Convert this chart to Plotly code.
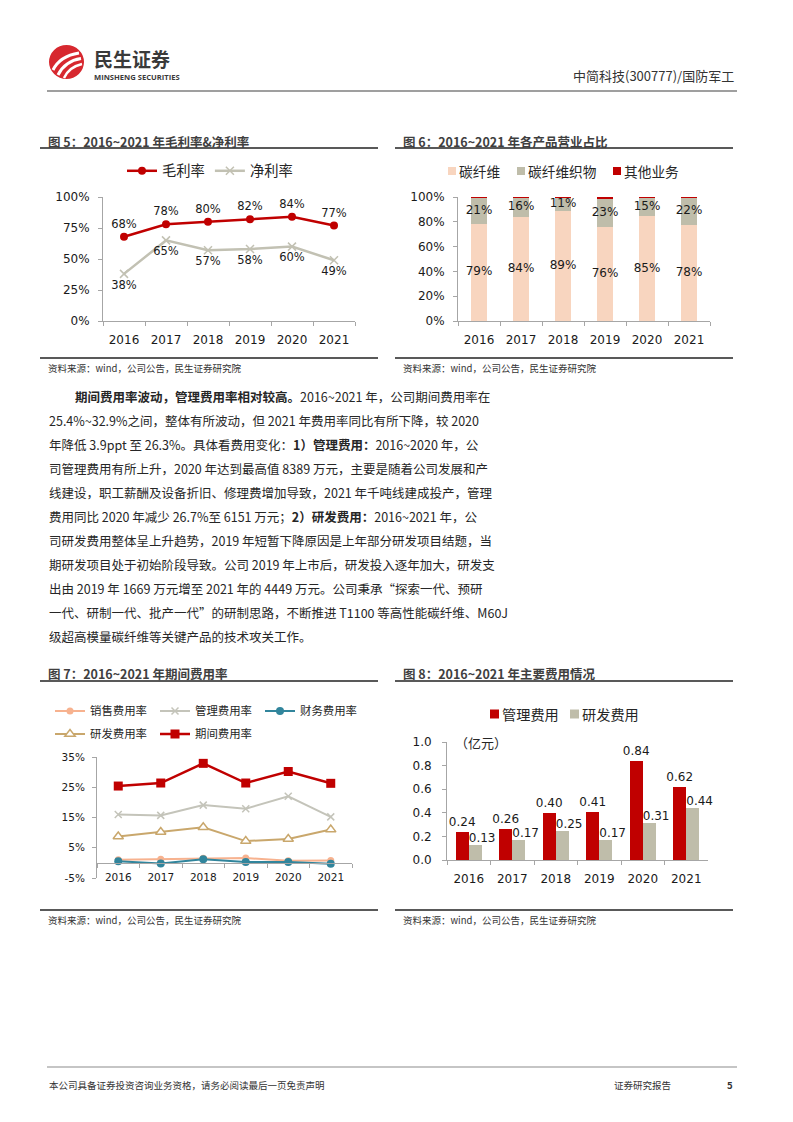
import plotly.graph_objects as go

W, H = 793, 1122
def X(p): return p / W
def Y(p): return 1 - p / H

# ---------------- data ----------------
years = ['2016', '2017', '2018', '2019', '2020', '2021']

gross_margin = [68, 78, 80, 82, 84, 77]
net_margin = [38, 65, 57, 58, 60, 49]
pct_ticks_5 = [0, 25, 50, 75, 100]

cf_share = [78.6, 83.9, 88.6, 75.6, 84.6, 77.6]
fabric_share = [20.8, 15.6, 10.9, 22.9, 14.9, 21.9]
other_share = [0.6, 0.5, 0.5, 1.5, 0.5, 0.5]
cf_labels = ['79%', '84%', '89%', '76%', '85%', '78%']
fabric_labels = ['21%', '16%', '11%', '23%', '15%', '22%']
pct_ticks_6 = [0, 20, 40, 60, 80, 100]

sales_rate = [1.0, 1.2, 1.5, 1.6, 0.7, 0.8]
admin_rate = [16.0, 15.7, 19.1, 17.9, 22.0, 15.2]
fin_rate = [0.5, -0.2, 1.2, 0.3, 0.3, -0.3]
rd_rate = [8.7, 10.2, 11.8, 7.2, 7.9, 11.0]
period_rate = [25.4, 26.4, 32.9, 26.4, 30.2, 26.3]
pct_ticks_7 = [-5, 5, 15, 25, 35]

admin_exp = [0.24, 0.26, 0.40, 0.41, 0.84, 0.62]
rd_exp = [0.13, 0.17, 0.25, 0.17, 0.31, 0.44]
exp_ticks = [0.0, 0.2, 0.4, 0.6, 0.8, 1.0]

# ---------------- styles ----------------
RED = '#C00000'
GRAY_LINE = '#C2C1B3'
PEACH = '#F8D5BF'
FABRIC = '#BFBDAA'
SALES_C = '#F7B28F'
ADMIN_C = '#C4C4BA'
FIN_C = '#31859C'
RD_C = '#C9A76C'
AXIS_C = '#A6A6A6'
TXT = '#262626'
NUMF = 'DejaVu Sans, Noto Sans CJK SC'
CJK = 'Noto Sans CJK SC'
LBL = '#1a1a1a'

fig = go.Figure()

# ---------- chart 5 ----------
fig.add_trace(go.Scatter(
    x=years, y=gross_margin, name='毛利率', mode='lines+markers+text',
    text=[f'{v}%' for v in gross_margin], textposition='top center',
    textfont=dict(family=NUMF, size=11.5, color=LBL),
    line=dict(color=RED, width=2.5), marker=dict(color=RED, size=8),
    xaxis='x', yaxis='y', legend='legend', cliponaxis=False))
fig.add_trace(go.Scatter(
    x=years, y=net_margin, name='净利率', mode='lines+markers+text',
    text=[f'{v}%' for v in net_margin], textposition='bottom center',
    textfont=dict(family=NUMF, size=11.5, color=LBL),
    line=dict(color=GRAY_LINE, width=2.5),
    marker=dict(symbol='x-thin', size=8, color=GRAY_LINE, line=dict(color=GRAY_LINE, width=1.5)),
    xaxis='x', yaxis='y', legend='legend', cliponaxis=False))

# ---------- chart 6 ----------
fabric_base = cf_share
other_base = [a + b for a, b in zip(cf_share, fabric_share)]
fig.add_trace(go.Bar(x=years, y=cf_share, name='碳纤维', marker=dict(color=PEACH, line=dict(width=0)),
                     width=0.4, xaxis='x2', yaxis='y2', showlegend=False))
fig.add_trace(go.Bar(x=years, y=fabric_share, base=fabric_base, name='碳纤维织物',
                     marker=dict(color=FABRIC, line=dict(width=0)),
                     width=0.4, xaxis='x2', yaxis='y2', showlegend=False))
fig.add_trace(go.Bar(x=years, y=other_share, base=other_base, name='其他业务',
                     marker=dict(color=RED, line=dict(width=0)),
                     width=0.4, xaxis='x2', yaxis='y2', showlegend=False))
fig.add_trace(go.Scatter(x=years, y=[v / 2 for v in cf_share], mode='text', text=cf_labels,
                         textfont=dict(family=NUMF, size=12, color=LBL),
                         showlegend=False, xaxis='x2', yaxis='y2', hoverinfo='skip'))
fig.add_trace(go.Scatter(x=years, y=[a + b / 2 for a, b in zip(cf_share, fabric_share)], mode='text',
                         text=fabric_labels, textfont=dict(family=NUMF, size=12, color=LBL),
                         showlegend=False, xaxis='x2', yaxis='y2', hoverinfo='skip'))

# ---------- chart 7 ----------
fig.add_trace(go.Scatter(x=years, y=sales_rate, name='销售费用率', mode='lines+markers',
                         line=dict(color=SALES_C, width=2), marker=dict(color=SALES_C, size=7),
                         xaxis='x3', yaxis='y3', legend='legend3', cliponaxis=False))
fig.add_trace(go.Scatter(x=years, y=admin_rate, name='管理费用率', mode='lines+markers',
                         line=dict(color=ADMIN_C, width=2),
                         marker=dict(symbol='x-thin', size=7, color=ADMIN_C, line=dict(color=ADMIN_C, width=1.5)),
                         xaxis='x3', yaxis='y3', legend='legend3'))
fig.add_trace(go.Scatter(x=years, y=fin_rate, name='财务费用率', mode='lines+markers',
                         line=dict(color=FIN_C, width=2), marker=dict(color=FIN_C, size=8),
                         xaxis='x3', yaxis='y3', legend='legend3', cliponaxis=False))
fig.add_trace(go.Scatter(x=years, y=rd_rate, name='研发费用率', mode='lines+markers',
                         line=dict(color=RD_C, width=2),
                         marker=dict(symbol='triangle-up', size=9, color='white', line=dict(color=RD_C, width=1.5)),
                         xaxis='x3', yaxis='y3', legend='legend4'))
fig.add_trace(go.Scatter(x=years, y=period_rate, name='期间费用率', mode='lines+markers',
                         line=dict(color=RED, width=2.5), marker=dict(symbol='square', color=RED, size=9),
                         xaxis='x3', yaxis='y3', legend='legend4'))

# ---------- chart 8 ----------
fig.add_trace(go.Bar(x=years, y=admin_exp, name='管理费用', marker=dict(color=RED, line=dict(width=0)),
                     width=0.3, offset=-0.3, text=[f'{v:.2f}' for v in admin_exp], textposition='outside',
                     textangle=0, constraintext='none', cliponaxis=False,
                     textfont=dict(family=NUMF, size=12, color=LBL),
                     xaxis='x4', yaxis='y4', showlegend=False))
fig.add_trace(go.Bar(x=years, y=rd_exp, name='研发费用', marker=dict(color=FABRIC, line=dict(width=0)),
                     width=0.3, offset=0.0, xaxis='x4', yaxis='y4', showlegend=False))
fig.add_trace(go.Scatter(x=years, y=rd_exp, mode='text', text=[f'{v:.2f}' for v in rd_exp],
                         textposition='top right', textfont=dict(family=NUMF, size=12, color=LBL),
                         cliponaxis=False, showlegend=False, hoverinfo='skip', xaxis='x4', yaxis='y4'))

# ---------------- axes ----------------
def xax(d0, d1, anchor, size=12, **kw):
    a = dict(domain=[X(d0), X(d1)], anchor=anchor, type='category', range=[-0.5, 5.5],
             showline=True, linecolor=AXIS_C, linewidth=1, ticks='outside', tickson='boundaries',
             ticklen=4, tickcolor=AXIS_C, showgrid=False, zeroline=False, fixedrange=True,
             tickfont=dict(family=NUMF, size=size, color=LBL))
    a.update(kw)
    return a

def yax(top, bottom, anchor, rng, size=12, **kw):
    a = dict(domain=[Y(bottom), Y(top)], anchor=anchor, range=rng, showline=True, linecolor=AXIS_C,
             linewidth=1, ticks='outside', ticklen=4, tickcolor=AXIS_C, showgrid=False, zeroline=False,
             fixedrange=True, tickfont=dict(family=NUMF, size=size, color=LBL))
    a.update(kw)
    return a

# chart 7: value 0 sits at this pixel row (range -5..35 over 757..878)
c7_top, c7_bot = 757, 878
c7_zero = c7_bot - (0 - pct_ticks_7[0]) / (pct_ticks_7[-1] - pct_ticks_7[0]) * (c7_bot - c7_top)

layout_axes = dict(
    xaxis=xax(103, 355, 'y', ticklabelstandoff=8),
    yaxis=yax(197, 321, 'x', [0, 100], tickvals=pct_ticks_5, ticktext=[f'{v}%' for v in pct_ticks_5],
              ticklabelstandoff=6),
    xaxis2=xax(458, 710, 'y2', ticklabelstandoff=8),
    yaxis2=yax(197, 321, 'x2', [0, 100], tickvals=pct_ticks_6, ticktext=[f'{v}%' for v in pct_ticks_6],
               ticklabelstandoff=6),
    xaxis3=xax(97, 352, 'free', size=10.5, position=Y(c7_zero), ticklen=4, ticklabelstandoff=5),
    yaxis3=yax(c7_top, c7_bot, 'x3', [pct_ticks_7[0], pct_ticks_7[-1]], size=10.5, tickvals=pct_ticks_7,
               ticktext=[f'{v}%' for v in pct_ticks_7], ticklabelstandoff=5),
    xaxis4=xax(447, 708, 'y4', size=12, ticklabelstandoff=8),
    yaxis4=yax(742, 860, 'x4', [0, 1.0], tickvals=exp_ticks, ticktext=[f'{v:.1f}' for v in exp_ticks],
               ticklabelstandoff=8),
)

def leg(x, y, size, **kw):
    d = dict(orientation='h', x=X(x), y=Y(y), xanchor='left', yanchor='middle',
             bgcolor='rgba(0,0,0,0)', font=dict(family=CJK, size=size, color='#262626'),
             itemwidth=30, tracegroupgap=0, traceorder='normal')
    d.update(kw)
    return d

# ---------------- text ----------------
ann = []
def text(x, y, s, size=12, color=TXT, family=CJK, anchor='left', bold=False):
    if bold:
        s = f'<b>{s}</b>'
    ann.append(dict(x=X(x), y=Y(y), xref='paper', yref='paper', text=s, showarrow=False,
                    xanchor=anchor, yanchor='middle', font=dict(family=family, size=size, color=color)))

shapes = []
def square(x, y, s, color):
    shapes.append(dict(type='rect', xref='paper', yref='paper', x0=X(x), x1=X(x + s),
                       y0=Y(y + s / 2), y1=Y(y - s / 2), fillcolor=color, line=dict(width=0)))

# header
text(92, 58, '<b>民生证券</b>', size=19, color='#3a3a3a')
text(92, 77, '<b>MINSHENG SECURITIES</b>', size=7.6, color='#3a3a3a', family='Open Sans')
text(736, 75, '中简科技(300777)/国防军工', size=13, color='#333333', anchor='right')

# chart titles
TITLE_C = '#3f3f3f'
text(46, 141, '图 5：2016~2021 年毛利率&净利率', size=12.5, color=TITLE_C, bold=True)
text(401, 141, '图 6：2016~2021 年各产品营业占比', size=12.5, color=TITLE_C, bold=True)
text(46, 673, '图 7：2016~2021 年期间费用率', size=12.5, color=TITLE_C, bold=True)
text(401, 673, '图 8：2016~2021 年主要费用情况', size=12.5, color=TITLE_C, bold=True)

# bar-chart legends
for x0, col, name in [(448, PEACH, '碳纤维'), (517, FABRIC, '碳纤维织物'), (613, RED, '其他业务')]:
    square(x0, 171, 8, col)
    text(x0 + 9, 171, name, size=13.7, color='#262626')
for x0, col, name in [(490, RED, '管理费用'), (570, FABRIC, '研发费用')]:
    square(x0, 714, 9, col)
    text(x0 + 10, 714, name, size=14.2, color='#262626')

# sources
src = '资料来源：wind，公司公告，民生证券研究院'
text(46, 368, src, size=9.5, color='#333333')
text(401, 368, src, size=9.5, color='#333333')
text(46, 920, src, size=9.5, color='#333333')
text(401, 920, src, size=9.5, color='#333333')

# unit
text(453, 742, '（亿元）', size=13, color='#262626')

# body
body = [
    (73, '<b>期间费用率波动，管理费用率相对较高。</b>2016~2021 年，公司期间费用率在'),
    (47, '25.4%~32.9%之间，整体有所波动，但 2021 年费用率同比有所下降，较 2020'),
    (47, '年降低 3.9ppt 至 26.3%。具体看费用变化：<b>1）管理费用：</b>2016~2020 年，公'),
    (47, '司管理费用有所上升，2020 年达到最高值 8389 万元，主要是随着公司发展和产'),
    (47, '线建设，职工薪酬及设备折旧、修理费增加导致，2021 年千吨线建成投产，管理'),
    (47, '费用同比 2020 年减少 26.7%至 6151 万元；<b>2）研发费用：</b>2016~2021 年，公'),
    (47, '司研发费用整体呈上升趋势，2019 年短暂下降原因是上年部分研发项目结题，当'),
    (47, '期研发项目处于初始阶段导致。公司 2019 年上市后，研发投入逐年加大，研发支'),
    (47, '出由 2019 年 1669 万元增至 2021 年的 4449 万元。公司秉承“探索一代、预研'),
    (47, '一代、研制一代、批产一代”的研制思路，不断推进 T1100 等高性能碳纤维、M60J'),
    (47, '级超高模量碳纤维等关键产品的技术攻关工作。'),
]
for i, (x0, s) in enumerate(body):
    text(x0, 397 + i * 23.9, s, size=12.5, color='#262626')

# footer
text(47, 1085, '本公司具备证券投资咨询业务资格，请务必阅读最后一页免责声明', size=9.5, color='#333333')
text(612, 1085, '证券研究报告', size=9.5, color='#333333')
text(735, 1085, '<b>5</b>', size=9.5, color='#333333', anchor='right')

# ---------------- shapes ----------------
def hline(x0, x1, y, color='#595959', width=2):
    shapes.append(dict(type='line', xref='paper', yref='paper', x0=X(x0), x1=X(x1), y0=Y(y), y1=Y(y),
                       line=dict(color=color, width=width)))

hline(47, 737, 91, color='#7f7f7f', width=1.5)
hline(47, 737, 1067, color='#8c8c8c', width=1.2)
for yy in (148, 358, 681, 910):
    hline(40, 378, yy)
    hline(395, 733, yy)

# logo
shapes.append(dict(type='circle', xref='paper', yref='paper', x0=X(49), x1=X(84), y0=Y(79), y1=Y(45),
                   fillcolor='#D7282F', line=dict(width=0)))
def qpath(p0, c, p1):
    return f'M {X(p0[0])},{Y(p0[1])} Q {X(c[0])},{Y(c[1])} {X(p1[0])},{Y(p1[1])}'
for p0, c, p1, w in [((53, 70), (60, 56), (79, 53), 3),
                     ((58, 75), (65, 61), (81, 58.5), 3),
                     ((64, 78), (69, 67), (82, 64), 2.5)]:
    shapes.append(dict(type='path', xref='paper', yref='paper', path=qpath(p0, c, p1),
                       line=dict(color='white', width=w)))

fig.update_layout(
    width=W, height=H, margin=dict(l=0, r=0, t=0, b=0, autoexpand=False), autosize=False,
    paper_bgcolor='white', plot_bgcolor='white', barmode='overlay', bargap=0,
    font=dict(family=CJK, color=TXT),
    showlegend=True,
    legend=leg(122, 171, 14.3),
    legend3=leg(50, 711, 11.4, entrywidth=60),
    legend4=leg(50, 734, 11.4, entrywidth=60),
    annotations=ann, shapes=shapes,
    **layout_axes,
)

fig.write_html('out.html', config={'displayModeBar': False, 'staticPlot': True},
               post_script="document.body.style.margin='0';document.body.style.padding='0';"
                           "document.documentElement.style.overflow='hidden';")
